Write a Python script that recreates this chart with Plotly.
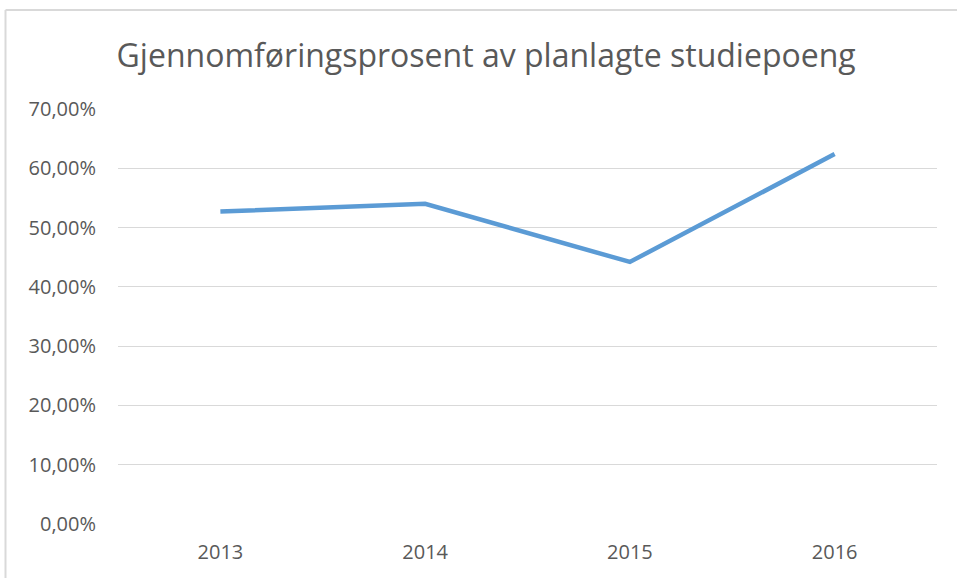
import plotly.graph_objects as go

years = ["2013", "2014", "2015", "2016"]
values = [0.527, 0.540, 0.442, 0.624]
title_text = "Gjennomføringsprosent av planlagte studiepoeng"

fig = go.Figure()
fig.add_trace(go.Scatter(
    x=years, y=values, mode="lines",
    line=dict(color="#5B9BD5", width=4.5),
    showlegend=False, hoverinfo="x+y",
))

px = 0.7 / 415  # value per pixel
font_family = "Open Sans, Liberation Sans, sans-serif"
frame_x0 = (5.5 - 118) / 819
frame_top = (525 - 10) / 417
frame_bottom = -60 / 417
frame_right = (957 - 118) / 819
fig.update_layout(
    width=957, height=578,
    margin=dict(l=118, r=20, t=108, b=53),
    paper_bgcolor="white", plot_bgcolor="white",
    separators=", ",
    title=dict(text=title_text, x=0.508, xanchor="center", y=0.904, yanchor="middle",
               font=dict(family=font_family, size=32, color="#595959")),
    xaxis=dict(type="category", range=[-0.5, 3.5], showgrid=False, zeroline=False,
               showline=False, ticks="", ticklabelstandoff=13,
               tickfont=dict(family=font_family, size=20, color="#595959")),
    yaxis=dict(range=[-px, 0.7 + px], tickvals=[0, 0.1, 0.2, 0.3, 0.4, 0.5, 0.6, 0.7],
               tickformat=".2%", showgrid=True,
               gridcolor="#D9D9D9", gridwidth=1, zeroline=False, showline=False,
               ticks="", ticklabelstandoff=21,
               tickfont=dict(family=font_family, size=20, color="#595959")),
    shapes=[
        dict(type="line", xref="paper", yref="paper", x0=frame_x0, x1=frame_x0,
             y0=frame_bottom, y1=frame_top, line=dict(color="#D9D9D9", width=2), layer="below"),
        dict(type="line", xref="paper", yref="paper", x0=frame_x0, x1=frame_right,
             y0=frame_top, y1=frame_top, line=dict(color="#D9D9D9", width=2), layer="below"),
    ],
)

fig.write_html(
    "out.html", config={"displayModeBar": False},
    post_script=("document.body.style.margin='0';"
                 "document.body.style.overflow='hidden';"
                 "document.documentElement.style.overflow='hidden';"),
)
